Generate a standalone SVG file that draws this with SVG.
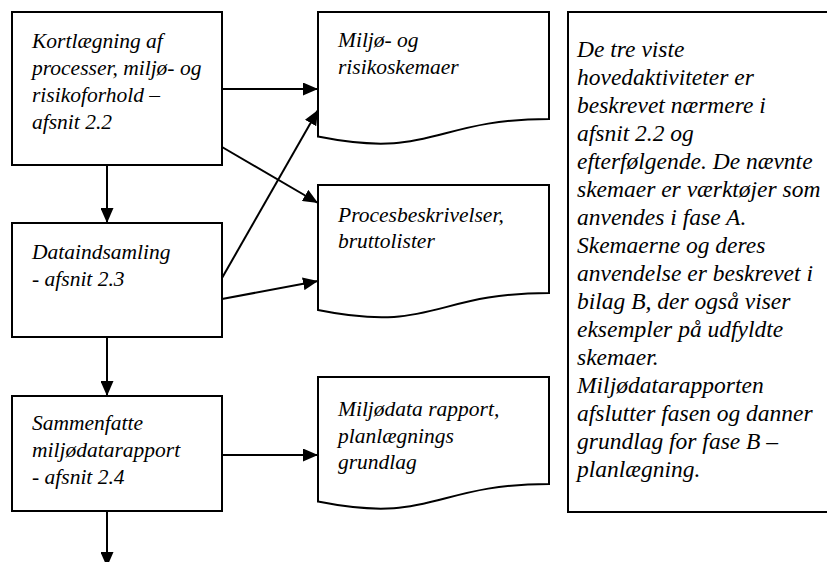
<svg xmlns="http://www.w3.org/2000/svg" width="827" height="562" viewBox="0 0 827 562">
  <style>
    .box { fill: #fff; stroke: #000; stroke-width: 2; }
    .link { fill: none; stroke: #000; stroke-width: 2; marker-end: url(#head); }
    text { font-family: "Liberation Serif", "Times New Roman", serif; font-style: italic; font-size: 21.5px; fill: #000; }
    .note text { font-size: 23.5px; }
  </style>
  <defs>
    <marker id="head" markerUnits="userSpaceOnUse" markerWidth="15" markerHeight="13" refX="15" refY="6.5" orient="auto">
      <path d="M0,0 L15,6.5 L0,13 Z" fill="#000"/>
    </marker>
  </defs>

  <rect width="827" height="562" fill="#fff"/>

  <!-- process steps -->
  <g id="kortlaegning">
    <rect class="box" x="12" y="12" width="210" height="153"/>
    <text x="32" y="48">Kortlægning af</text>
    <text x="32" y="75">processer, miljø- og</text>
    <text x="32" y="102">risikoforhold –</text>
    <text x="32" y="129">afsnit 2.2</text>
  </g>
  <g id="dataindsamling">
    <rect class="box" x="12" y="223" width="210" height="114"/>
    <text x="32" y="259">Dataindsamling</text>
    <text x="32" y="286">- afsnit 2.3</text>
  </g>
  <g id="sammenfatte">
    <rect class="box" x="12" y="396" width="210" height="115"/>
    <text x="32" y="430">Sammenfatte</text>
    <text x="32" y="457">miljødatarapport</text>
    <text x="32" y="484">- afsnit 2.4</text>
  </g>

  <!-- documents -->
  <g id="skemaer">
    <path class="box" d="M318,12 H549 V119 C433.5,119 433.5,159.7 318,136.6 Z"/>
    <text x="338" y="47">Miljø- og</text>
    <text x="338" y="74">risikoskemaer</text>
  </g>
  <g id="procesbeskrivelser">
    <path class="box" d="M318,185 H549 V293 C433.5,293 433.5,333.5 318,310 Z"/>
    <text x="338" y="222">Procesbeskrivelser,</text>
    <text x="338" y="248">bruttolister</text>
  </g>
  <g id="miljoedata">
    <path class="box" d="M318,377 H549 V484 C433.5,484 433.5,524.7 318,501.6 Z"/>
    <text x="338" y="416">Miljødata rapport,</text>
    <text x="338" y="443">planlægnings</text>
    <text x="338" y="469">grundlag</text>
  </g>

  <!-- explanatory note -->
  <g id="note" class="note">
    <rect class="box" x="568" y="12" width="275" height="500"/>
    <text x="577" y="57">De tre viste</text>
    <text x="577" y="85">hovedaktiviteter er</text>
    <text x="577" y="113">beskrevet nærmere i</text>
    <text x="577" y="141">afsnit 2.2 og</text>
    <text x="577" y="169">efterfølgende. De nævnte</text>
    <text x="577" y="197">skemaer er værktøjer som</text>
    <text x="577" y="225">anvendes i fase A.</text>
    <text x="577" y="253">Skemaerne og deres</text>
    <text x="577" y="281">anvendelse er beskrevet i</text>
    <text x="577" y="309">bilag B, der også viser</text>
    <text x="577" y="337">eksempler på udfyldte</text>
    <text x="577" y="365">skemaer.</text>
    <text x="577" y="393">Miljødatarapporten</text>
    <text x="577" y="421">afslutter fasen og danner</text>
    <text x="577" y="449">grundlag for fase B –</text>
    <text x="577" y="477">planlægning.</text>
  </g>

  <!-- connectors -->
  <g id="connectors">
    <line class="link" x1="222" y1="89" x2="318" y2="89"/>
    <line class="link" x1="222" y1="147" x2="318" y2="203"/>
    <line class="link" x1="222" y1="278" x2="318" y2="110"/>
    <line class="link" x1="222" y1="299" x2="318" y2="281"/>
    <line class="link" x1="107" y1="165" x2="107" y2="223"/>
    <line class="link" x1="107" y1="337" x2="107" y2="396"/>
    <line class="link" x1="222" y1="455" x2="318" y2="455"/>
    <line class="link" x1="107" y1="511" x2="107" y2="567"/>
  </g>
</svg>
